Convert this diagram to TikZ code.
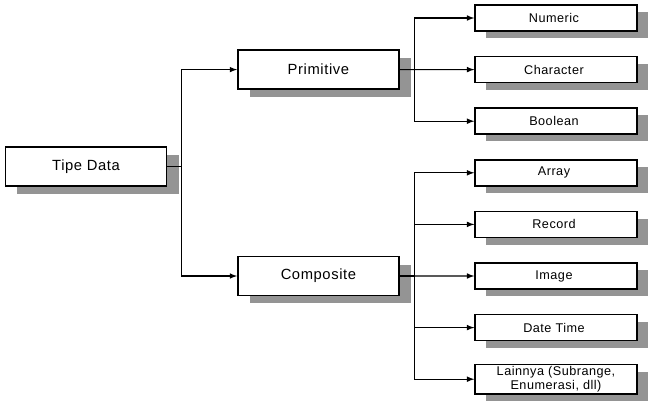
\documentclass[tikz,border=0pt]{standalone}
\usepackage{fontspec}
\setmainfont{Liberation Sans}[LetterSpace=4]
\usepackage{tikz}
\usetikzlibrary{positioning}
\usetikzlibrary{shadows}
\usetikzlibrary{calc}

\tikzset{
  typebox/.style={draw=black, line width=1pt, fill=white, minimum width=4.03cm, minimum height=0.97cm,
    font=\fontsize{10.5}{13}\selectfont,
    drop shadow={shadow xshift=0.3cm, shadow yshift=-0.2cm, fill=black!42, opacity=1}},
  subbox/.style={draw=black, line width=1pt, fill=white, minimum width=4.05cm, minimum height=0.65cm,
    inner sep=1pt, align=center, font=\fontsize{9}{10.5}\selectfont,
    drop shadow={shadow xshift=0.28cm, shadow yshift=-0.18cm, fill=black!42, opacity=1}},
  link/.style={line width=0.8pt, -latex}
}

\begin{document}
\begin{tikzpicture}
 \useasboundingbox (0,0) rectangle (16.325,-10.1);

 \node (tipe) [typebox] at (2.15,-4.16) { Tipe Data };
 \node (primitive) [typebox] at (7.96,-1.74) { Primitive };
 \node (composite) [typebox] at (7.96,-6.9) { Composite };

 \node (numeric) [subbox] at (13.9,-0.45) { Numeric };
 \node (character) [subbox,below=1.29cm of numeric.center,anchor=center] { Character };
 \node (boolean) [subbox,below=1.29cm of character.center,anchor=center] { Boolean };
 \node (array) [subbox,below=1.29cm of boolean.center,anchor=center] { Array };
 \node (record) [subbox,below=1.29cm of array.center,anchor=center] { Record };
 \node (image) [subbox,below=1.29cm of record.center,anchor=center] { Image };
 \node (datetime) [subbox,below=1.29cm of image.center,anchor=center] { Date Time };
 \node (lainnya) [subbox,below=1.29cm of datetime.center,anchor=center] { Lainnya (Subrange,\\ Enumerasi, dll) };

 \coordinate (split) at ($ (tipe.east) + (0.35cm,0) $);
 \coordinate (splitp) at ($ (primitive.east) + (0.38cm,0) $);
 \coordinate (splitc) at ($ (composite.east) + (0.38cm,0) $);

 \draw [line width=0.8pt] (tipe.east) -- (split);
 \draw [link] (split) |- (primitive.west);
 \draw [link] (split) |- (composite.west);

 \draw [line width=0.8pt] (primitive.east) -- (splitp);
 \draw [link] (splitp) |- (numeric.west);
 \draw [link] (primitive.east) -- (character.west);
 \draw [link] (splitp) |- (boolean.west);

 \draw [line width=0.8pt] (composite.east) -- (splitc);
 \draw [link] (splitc) |- (array.west);
 \draw [link] (splitc) |- (record.west);
 \draw [link] (composite.east) -- (image.west);
 \draw [link] (splitc) |- (datetime.west);
 \draw [link] (splitc) |- (lainnya.west);
\end{tikzpicture}
\end{document}
